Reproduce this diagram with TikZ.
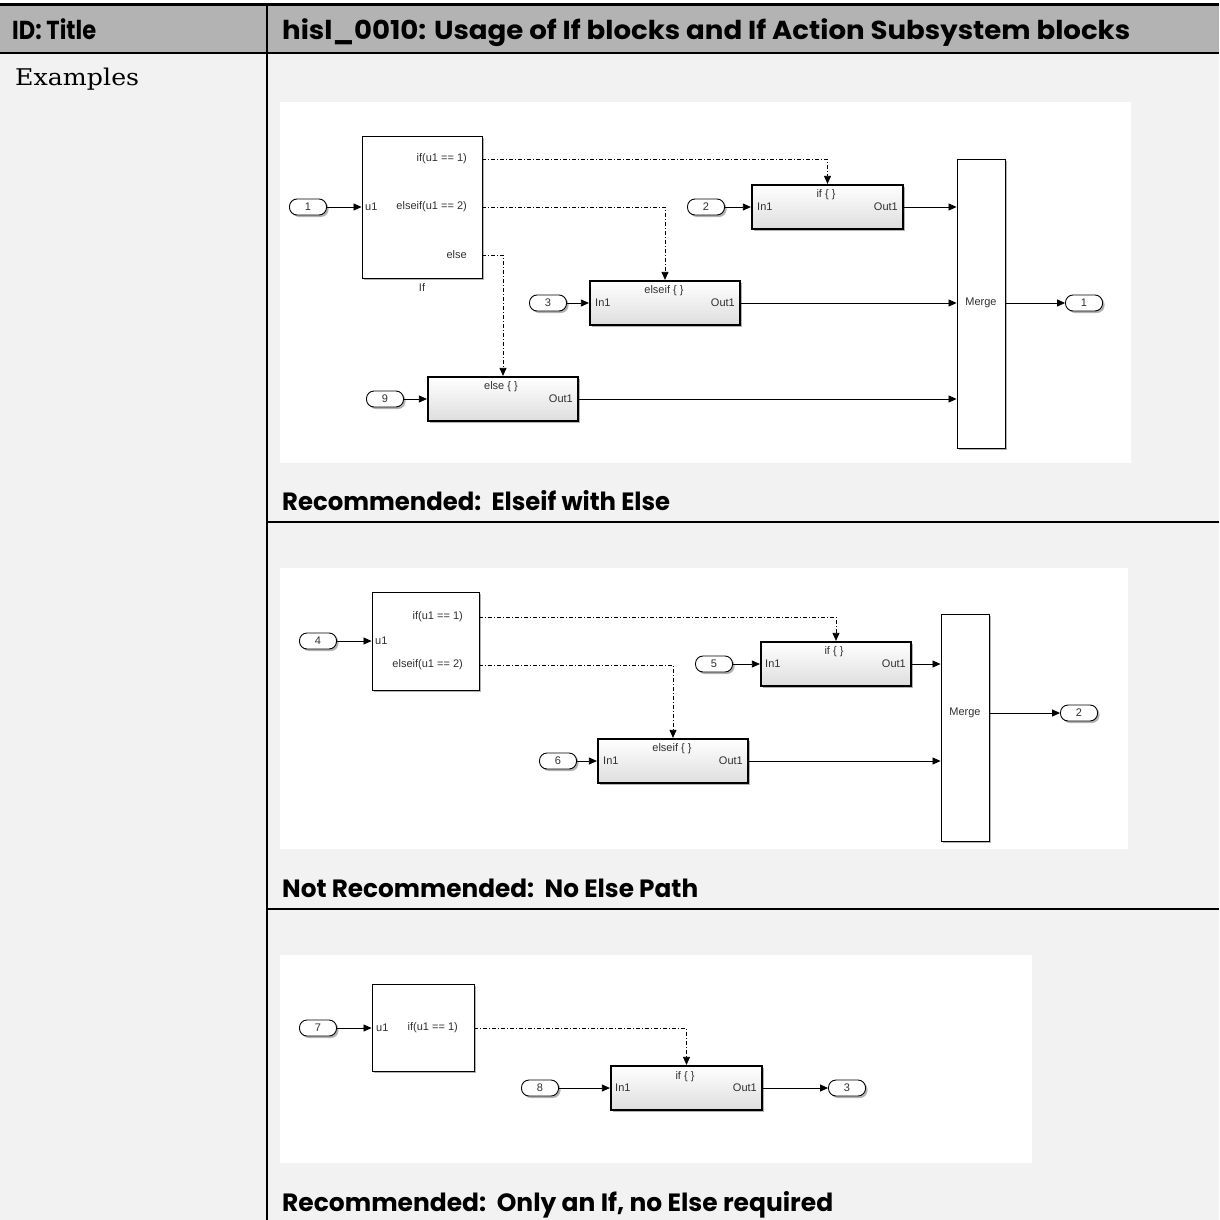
\documentclass[tikz,border=0pt]{standalone}
\usepackage{fontspec}
\usetikzlibrary{arrows.meta,shadows}
\newfontfamily\headfont{Poppins}
\newfontfamily\slfont{Liberation Sans}
\newfontfamily\serfont{DejaVu Serif}
\definecolor{hdrgray}{HTML}{B3B3B3}
\definecolor{bodygray}{HTML}{F2F2F2}
\definecolor{txtgray}{HTML}{303030}
\tikzset{
  sig/.style={-{Triangle[length=8pt,width=7pt]}, line width=0.8pt, black},
  act/.style={sig, dash pattern=on 4pt off 2pt on 1pt off 2pt},
  shad/.style={drop shadow={shadow xshift=2pt,shadow yshift=-2pt,opacity=0.3,fill=black}},
  ifblk/.style={draw, line width=0.9pt, fill=white, shad, inner sep=0pt},
  subblk/.style={draw, line width=2.2pt, top color=white, bottom color=black!13, shad, inner sep=0pt, minimum height=44pt},
  port/.style={draw, line width=0.9pt, rounded corners=7.5pt, minimum width=37pt, minimum height=16pt, fill=white, inner sep=0pt, shad, font=\slfont\fontsize{11}{11}\selectfont, text=txtgray},
  lbl/.style={font=\slfont\fontsize{11}{12}\selectfont, text=txtgray, inner sep=0pt},
  capt/.style={font=\headfont\bfseries\fontsize{25}{28}\selectfont, anchor=base west, inner sep=0pt},
  hdr/.style={font=\headfont\bfseries\fontsize{26}{28}\selectfont, anchor=base west, inner sep=0pt},
}
\begin{document}
\begin{tikzpicture}[x=1pt,y=-1pt]
\useasboundingbox (0,0) rectangle (1219,1220);
% backgrounds
\fill[white] (0,0) rectangle (1219,1220);
\fill[hdrgray] (0,5) rectangle (1219,53);
\fill[bodygray] (0,53) rectangle (1219,1220);
\draw[line width=3pt] (0,4.5) -- (1219,4.5);
\draw[line width=2pt] (0,53) -- (1219,53);
\draw[line width=2pt] (267,4) -- (267,1220);
\draw[line width=2pt] (267,522) -- (1219,522);
\draw[line width=2pt] (267,909) -- (1219,909);
\fill[white] (280,102) rectangle (1131,463);
\fill[white] (280,568) rectangle (1128,849);
\fill[white] (280,955) rectangle (1032,1163);
% header texts
\node[hdr] (hid) at (12,40) {\resizebox{84pt}{\height}{ID: Title}};
\node[hdr] (htitle) at (282,40) {\resizebox{848pt}{\height}{hisl\_0010: Usage of If blocks and If Action Subsystem blocks}};
\node[font=\serfont\fontsize{23}{26}\selectfont, anchor=base west, inner sep=0pt] (ex) at (15,86) {\resizebox{124pt}{\height}{Examples}};
\node[capt] (c1) at (282,510) {\resizebox{388pt}{\height}{Recommended:\ \ Elseif with Else}};
\node[capt] (c2) at (282,897) {\resizebox{416pt}{\height}{Not Recommended:\ \ No Else Path}};
\node[capt] (c3) at (282,1211) {\resizebox{551pt}{\height}{Recommended:\ \ Only an If, no Else required}};

% ---------- Panel 1 ----------
\node[ifblk, minimum width=120pt, minimum height=142pt] (ifA) at (422,207) {};
\node[lbl, anchor=east] (ifAl1) at (467,159) {if(u1 == 1)};
\node[lbl, anchor=east] (ifAl2) at (467,207) {elseif(u1 == 2)};
\node[lbl, anchor=east] (ifAl3) at (467,255) {else};
\node[lbl, anchor=west] (ifAu) at (365,207) {u1};
\node[lbl] (ifAn) at (422,288) {If};
\node[port] (in1) at (308,207) {1};
\node[subblk, minimum width=151pt] (subA) at (827.5,207) {};
\node[lbl] (subAn) at (826,195) {if \{ \}};
\node[lbl, anchor=west] (subAi) at (757,207) {In1};
\node[lbl, anchor=east] (subAo) at (898,207) {Out1};
\node[port] (in2) at (706,207) {2};
\node[ifblk, minimum width=48pt, minimum height=289pt] (mergeA) at (981,303.5) {};
\node[lbl] (mergeAl) at (981,303) {Merge};
\node[port] (out1) at (1084,303) {1};
\node[subblk, minimum width=150pt] (elseifA) at (665,303) {};
\node[lbl] (elseifAn) at (664,291) {elseif \{ \}};
\node[lbl, anchor=west] (elseifAi) at (595,303) {In1};
\node[lbl, anchor=east] (elseifAo) at (735,303) {Out1};
\node[port] (in3) at (548,303) {3};
\node[subblk, minimum width=150pt] (elseA) at (503,399) {};
\node[lbl] (elseAn) at (501,387) {else \{ \}};
\node[lbl, anchor=east] (elseAo) at (573,399) {Out1};
\node[port] (in9) at (385,399) {9};
% connections
\draw[sig] (in1.east) -- (in1.east -| ifA.west);
\draw[sig] (in2.east) -- (in2.east -| subA.west);
\draw[sig] (in3.east) -- (in3.east -| elseifA.west);
\draw[sig] (in9.east) -- (in9.east -| elseA.west);
\draw[act] (ifA.east |- ifAl1) -| (subA.north);
\draw[act] (ifA.east |- ifAl2) -| (elseifA.north);
\draw[act] (ifA.east |- ifAl3) -| (elseA.north);
\draw[sig] (subA.east) -- (subA.east -| mergeA.west);
\draw[sig] (elseifA.east) -- (elseifA.east -| mergeA.west);
\draw[sig] (elseA.east) -- (elseA.east -| mergeA.west);
\draw[sig] (mergeA.east |- out1) -- (out1.west);

% ---------- Panel 2 ----------
\node[ifblk, minimum width=107pt, minimum height=98pt] (ifB) at (425.5,641) {};
\node[lbl, anchor=east] (ifBl1) at (463,617) {if(u1 == 1)};
\node[lbl, anchor=east] (ifBl2) at (463,665) {elseif(u1 == 2)};
\node[lbl, anchor=west] (ifBu) at (375,641) {u1};
\node[port] (in4) at (318,641) {4};
\node[subblk, minimum width=150pt] (subB) at (836,664) {};
\node[lbl] (subBn) at (834,652) {if \{ \}};
\node[lbl, anchor=west] (subBi) at (765,664) {In1};
\node[lbl, anchor=east] (subBo) at (906,664) {Out1};
\node[port] (in5) at (714,664) {5};
\node[ifblk, minimum width=48pt, minimum height=227pt] (mergeB) at (965,727.5) {};
\node[lbl] (mergeBl) at (965,713) {Merge};
\node[port] (out2) at (1079,713) {2};
\node[subblk, minimum width=150pt] (elseifB) at (673,761) {};
\node[lbl] (elseifBn) at (672,749) {elseif \{ \}};
\node[lbl, anchor=west] (elseifBi) at (603,761) {In1};
\node[lbl, anchor=east] (elseifBo) at (743,761) {Out1};
\node[port] (in6) at (558,761) {6};
\draw[sig] (in4.east) -- (in4.east -| ifB.west);
\draw[sig] (in5.east) -- (in5.east -| subB.west);
\draw[sig] (in6.east) -- (in6.east -| elseifB.west);
\draw[act] (ifB.east |- ifBl1) -| (subB.north);
\draw[act] (ifB.east |- ifBl2) -| (elseifB.north);
\draw[sig] (subB.east) -- (subB.east -| mergeB.west);
\draw[sig] (elseifB.east) -- (elseifB.east -| mergeB.west);
\draw[sig] (mergeB.east |- out2) -- (out2.west);

% ---------- Panel 3 ----------
\node[ifblk, minimum width=102pt, minimum height=87pt] (ifC) at (423,1027.5) {};
\node[lbl, anchor=west] (ifCu) at (376,1028) {u1};
\node[lbl, anchor=east] (ifCl1) at (458,1028) {if(u1 == 1)};
\node[port] (in7) at (318,1028) {7};
\node[subblk, minimum width=151pt] (subC) at (686.5,1088) {};
\node[lbl] (subCn) at (685,1077) {if \{ \}};
\node[lbl, anchor=west] (subCi) at (615,1088) {In1};
\node[lbl, anchor=east] (subCo) at (757,1088) {Out1};
\node[port] (in8) at (540,1088) {8};
\node[port] (out3) at (847,1088) {3};
\draw[sig] (in7.east) -- (in7.east -| ifC.west);
\draw[sig] (in8.east) -- (in8.east -| subC.west);
\draw[act] (ifC.east |- ifCl1) -| (subC.north);
\draw[sig] (subC.east) -- (out3.west);
\end{tikzpicture}
\end{document}
